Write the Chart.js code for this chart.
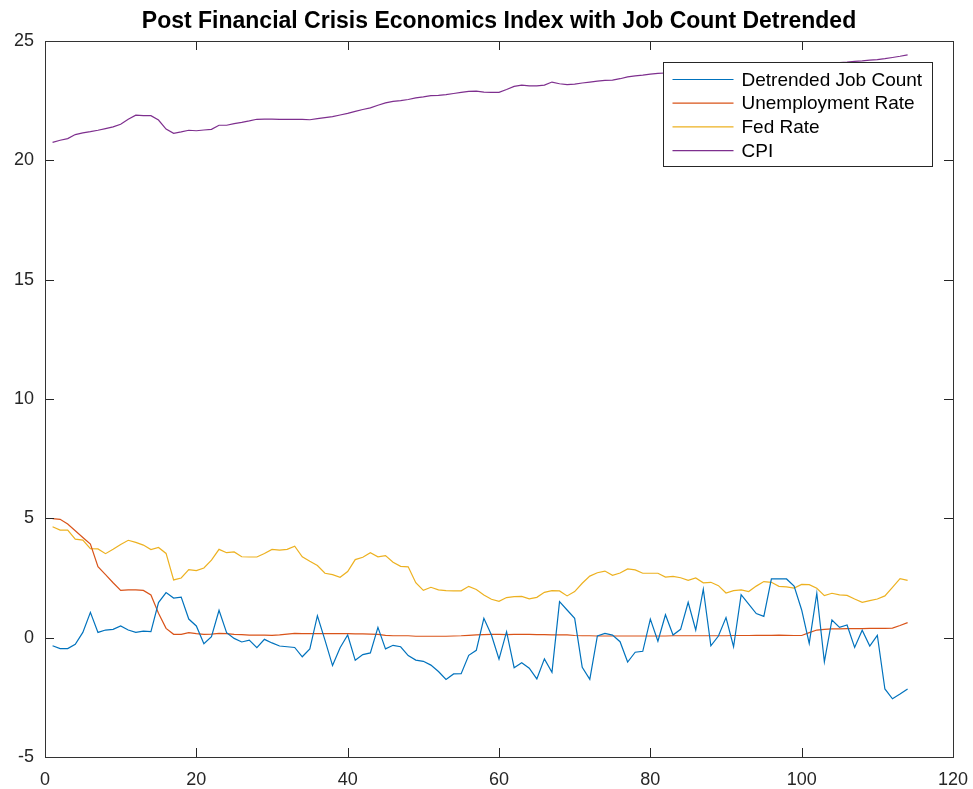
<!DOCTYPE html>
<html>
<head>
    <title>Post Financial Crisis Economics Index</title>
    <script src="https://cdn.jsdelivr.net/npm/chart.js"></script>
    <style>
        body { margin: 0; background: #fff; }
        #chart-container { width: 973px; height: 789px; }
    </style>
</head>
<body>
    <div id="chart-container">
        <canvas id="line-chart" width="973" height="789"></canvas>
    </div>

    <script>
        // series, one value per month index (1..114)
        var jobCount = [
            -0.34, -0.46, -0.46, -0.28, 0.22, 1.06, 0.22, 0.32, 0.35, 0.49,
            0.32, 0.22, 0.27, 0.25, 1.47, 1.89, 1.66, 1.70, 0.78, 0.49,
            -0.25, 0.04, 1.15, 0.21, -0.03, -0.18, -0.10, -0.42, -0.07, -0.22,
            -0.35, -0.38, -0.41, -0.80, -0.47, 0.92, -0.10, -1.17, -0.42, 0.11,
            -0.95, -0.71, -0.64, 0.43, -0.47, -0.32, -0.38, -0.75, -0.94, -0.99,
            -1.15, -1.42, -1.75, -1.52, -1.51, -0.74, -0.53, 0.81, 0.11, -0.90,
            0.25, -1.26, -1.05, -1.28, -1.73, -0.89, -1.45, 1.51, 1.16, 0.81,
            -1.24, -1.75, 0.07, 0.18, 0.11, -0.17, -1.02, -0.61, -0.57, 0.78,
            -0.15, 0.96, 0.11, 0.35, 1.48, 0.32, 2.03, -0.34, 0.07, 0.84,
            -0.38, 1.80, 1.41, 1.01, 0.89, 2.46, 2.46, 2.46, 2.16, 1.16,
            -0.24, 1.86, -1.01, 0.74, 0.43, 0.53, -0.41, 0.31, -0.35, 0.10,
            -2.15, -2.56, -2.36, -2.15
        ];
        var unemployment = [
            4.99, 4.96, 4.76, 4.48, 4.20, 3.92, 2.97, 2.64, 2.30, 1.98,
            2.00, 2.00, 1.98, 1.79, 1.02, 0.39, 0.14, 0.14, 0.21, 0.17,
            0.14, 0.15, 0.18, 0.17, 0.14, 0.13, 0.11, 0.11, 0.11, 0.10,
            0.12, 0.15, 0.18, 0.17, 0.17, 0.17, 0.17, 0.17, 0.17, 0.17,
            0.16, 0.16, 0.15, 0.14, 0.10, 0.08, 0.08, 0.08, 0.06, 0.06,
            0.06, 0.06, 0.06, 0.07, 0.08, 0.10, 0.12, 0.13, 0.14, 0.14,
            0.13, 0.14, 0.14, 0.14, 0.13, 0.13, 0.12, 0.12, 0.12, 0.09,
            0.08, 0.08, 0.07, 0.07, 0.07, 0.07, 0.07, 0.07, 0.07, 0.07,
            0.07, 0.07, 0.08, 0.08, 0.08, 0.08, 0.08, 0.08, 0.08, 0.08,
            0.09, 0.09, 0.09, 0.10, 0.10, 0.10, 0.11, 0.10, 0.09, 0.09,
            0.21, 0.32, 0.35, 0.37, 0.37, 0.38, 0.38, 0.38, 0.39, 0.39,
            0.39, 0.40, 0.51, 0.63
        ];
        var fedRate = [
            4.65, 4.51, 4.51, 4.13, 4.09, 3.73, 3.72, 3.52, 3.70, 3.90,
            4.08, 3.99, 3.88, 3.69, 3.78, 3.53, 2.42, 2.50, 2.85, 2.81,
            2.92, 3.25, 3.70, 3.56, 3.59, 3.39, 3.38, 3.38, 3.53, 3.70,
            3.67, 3.70, 3.83, 3.39, 3.20, 3.02, 2.70, 2.64, 2.53, 2.77,
            3.27, 3.37, 3.56, 3.39, 3.44, 3.16, 2.99, 2.97, 2.30, 1.98,
            2.11, 2.00, 1.97, 1.96, 1.96, 2.15, 2.02, 1.79, 1.61, 1.52,
            1.68, 1.72, 1.73, 1.63, 1.69, 1.90, 1.97, 1.96, 1.75, 1.93,
            2.28, 2.58, 2.72, 2.79, 2.61, 2.71, 2.88, 2.84, 2.70, 2.70,
            2.70, 2.54, 2.57, 2.51, 2.40, 2.50, 2.30, 2.32, 2.18, 1.87,
            1.97, 2.00, 1.93, 2.16, 2.35, 2.32, 2.15, 2.13, 2.08, 2.23,
            2.22, 2.07, 1.76, 1.86, 1.79, 1.77, 1.62, 1.48, 1.55, 1.62,
            1.75, 2.11, 2.47, 2.40
        ];
        var cpi = [
            20.75, 20.84, 20.91, 21.08, 21.15, 21.20, 21.26, 21.33, 21.40, 21.51,
            21.72, 21.89, 21.87, 21.87, 21.69, 21.31, 21.13, 21.19, 21.26, 21.24,
            21.27, 21.30, 21.47, 21.47, 21.54, 21.59, 21.65, 21.72, 21.73, 21.73,
            21.72, 21.72, 21.72, 21.72, 21.70, 21.75, 21.79, 21.83, 21.90, 21.97,
            22.05, 22.13, 22.20, 22.31, 22.41, 22.47, 22.50, 22.55, 22.62, 22.66,
            22.71, 22.72, 22.75, 22.80, 22.85, 22.89, 22.90, 22.86, 22.85, 22.85,
            22.97, 23.10, 23.15, 23.12, 23.12, 23.15, 23.28, 23.21, 23.17, 23.19,
            23.24, 23.28, 23.32, 23.35, 23.36, 23.42, 23.50, 23.54, 23.57, 23.61,
            23.64, 23.66, 23.68, 23.71, 23.73, 23.74, 23.76, 23.79, 23.80, 23.82,
            23.84, 23.87, 23.88, 23.90, 23.91, 23.93, 23.95, 23.97, 23.98, 23.99,
            24.00, 24.02, 24.05, 24.07, 24.10, 24.12, 24.15, 24.17, 24.20, 24.22,
            24.26, 24.31, 24.36, 24.42
        ];

        var seriesNames = ['Detrended Job Count', 'Unemployment Rate', 'Fed Rate', 'CPI'];
        var seriesColors = ['#0072BD', '#D95319', '#EDB120', '#7E2F8E'];
        var xTicks = [0, 20, 40, 60, 80, 100, 120];
        var yTicks = [-5, 0, 5, 10, 15, 20, 25];
        var titleText = 'Post Financial Crisis Economics Index with Job Count Detrended';

        var fontFamily = '"Liberation Sans", Arial, Helvetica, sans-serif';
        var axisColor = '#262626';

        function toPoints(values) {
            return values.map(function (v, i) { return { x: i + 1, y: v }; });
        }

        var allSeries = [jobCount, unemployment, fedRate, cpi];
        var datasets = allSeries.map(function (values, k) {
            return {
                label: seriesNames[k],
                data: toPoints(values),
                borderColor: seriesColors[k],
                backgroundColor: seriesColors[k],
                borderWidth: 1.2,
                pointRadius: 0,
                fill: false,
                tension: 0
            };
        });

        // box round the plot with short ticks pointing inwards on every side
        var boxPlugin = {
            id: 'boxAxes',
            afterDatasetsDraw: function (chart) {
                var c = chart.ctx, a = chart.chartArea;
                var xs = chart.scales.x, ys = chart.scales.y;
                var len = 9;
                c.save();
                c.strokeStyle = axisColor;
                c.lineWidth = 1;
                c.beginPath();
                xTicks.forEach(function (t) {
                    var px = Math.round(xs.getPixelForValue(t)) + 0.5;
                    c.moveTo(px, a.bottom); c.lineTo(px, a.bottom - len);
                    c.moveTo(px, a.top); c.lineTo(px, a.top + len);
                });
                yTicks.forEach(function (t) {
                    var py = Math.round(ys.getPixelForValue(t)) + 0.5;
                    c.moveTo(a.left, py); c.lineTo(a.left + len, py);
                    c.moveTo(a.right, py); c.lineTo(a.right - len, py);
                });
                c.stroke();
                c.strokeStyle = '#333';
                c.strokeRect(Math.round(a.left) + 0.5, Math.round(a.top) + 0.5,
                    Math.round(a.right - a.left), Math.round(a.bottom - a.top));
                c.restore();
            }
        };

        // legend box inside the top right corner of the plot
        var legendPlugin = {
            id: 'insideLegend',
            afterDatasetsDraw: function (chart) {
                var c = chart.ctx, a = chart.chartArea;
                var w = 269, h = 104;
                var x0 = Math.round(a.right - 21 - w) + 0.5;
                var y0 = Math.round(a.top + 21) + 0.5;
                c.save();
                c.fillStyle = '#fff';
                c.fillRect(x0, y0, w, h);
                c.strokeStyle = '#262626';
                c.lineWidth = 1;
                c.strokeRect(x0, y0, w, h);
                c.font = '19px ' + fontFamily;
                c.textBaseline = 'middle';
                c.textAlign = 'left';
                chart.data.datasets.forEach(function (ds, i) {
                    var ry = y0 + 17 + i * 23.7;
                    c.strokeStyle = ds.borderColor;
                    c.lineWidth = 1.2;
                    c.beginPath();
                    c.moveTo(x0 + 9, ry);
                    c.lineTo(x0 + 70, ry);
                    c.stroke();
                    c.fillStyle = '#000';
                    c.fillText(ds.label, x0 + 78, ry + 1);
                });
                c.restore();
            }
        };

        var ctx = document.getElementById('line-chart').getContext('2d');
        var chart = new Chart(ctx, {
            type: 'line',
            data: { datasets: datasets },
            options: {
                responsive: false,
                animation: false,
                layout: { padding: { left: 0, right: 20, top: 0, bottom: 0 } },
                plugins: {
                    legend: { display: false },
                    tooltip: { enabled: false },
                    title: {
                        display: true,
                        fullSize: false,
                        text: titleText,
                        color: '#000',
                        font: { family: fontFamily, size: 23, weight: 'bold', lineHeight: 1.2 },
                        padding: { top: 8, bottom: 5.4 }
                    }
                },
                scales: {
                    x: {
                        type: 'linear',
                        position: 'bottom',
                        min: 0,
                        max: 120,
                        afterBuildTicks: function (scale) {
                            scale.ticks = xTicks.map(function (v) { return { value: v }; });
                        },
                        afterFit: function (scale) {
                            scale.height = 32;
                            scale.paddingLeft = 0;
                            scale.paddingRight = 0;
                        },
                        grid: { display: false, drawTicks: false },
                        border: { display: false },
                        ticks: {
                            color: axisColor,
                            padding: 12,
                            maxRotation: 0,
                            font: { family: fontFamily, size: 18 }
                        }
                    },
                    y: {
                        type: 'linear',
                        position: 'left',
                        min: -5,
                        max: 25,
                        afterBuildTicks: function (scale) {
                            scale.ticks = yTicks.map(function (v) { return { value: v }; });
                        },
                        afterFit: function (scale) {
                            scale.width = 45;
                            scale.paddingTop = 0;
                            scale.paddingBottom = 0;
                        },
                        grid: { display: false, drawTicks: false },
                        border: { display: false },
                        ticks: {
                            color: axisColor,
                            padding: 11,
                            font: { family: fontFamily, size: 18 }
                        }
                    }
                }
            },
            plugins: [boxPlugin, legendPlugin]
        });
    </script>
</body>
</html>
